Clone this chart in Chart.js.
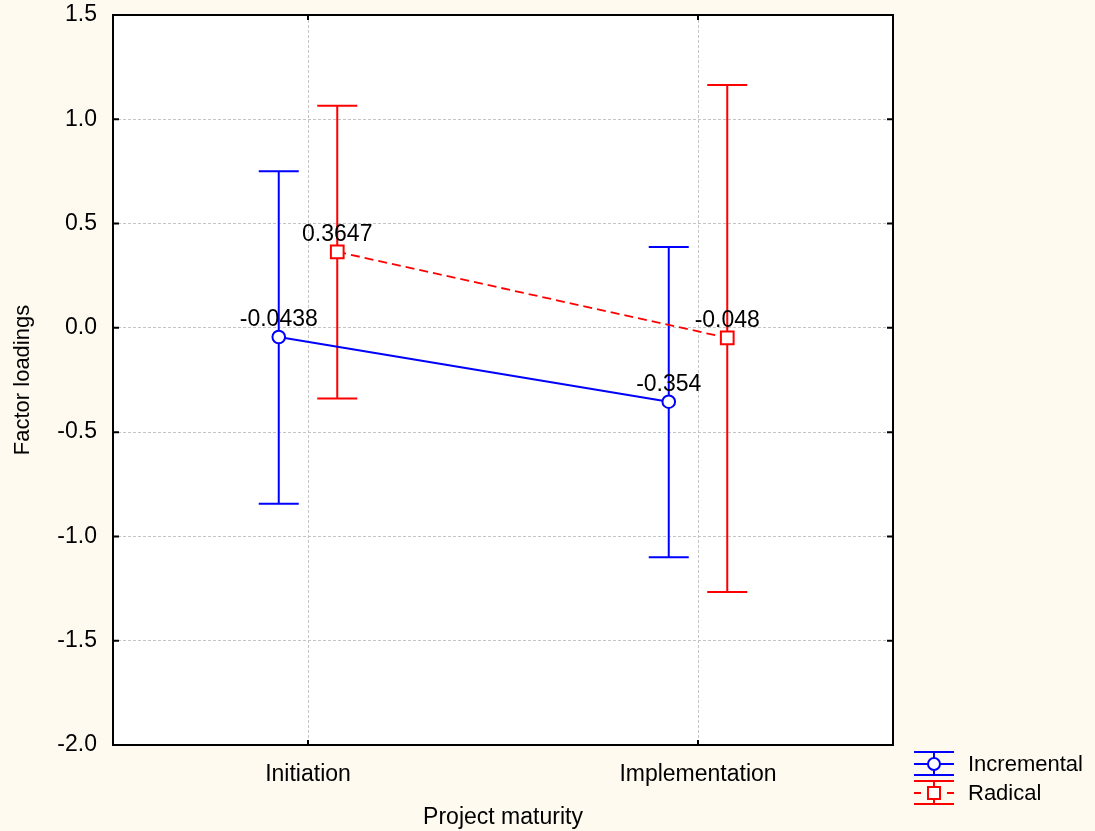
<!DOCTYPE html>
<html>
<head>
<meta charset="utf-8">
<script src="https://cdn.jsdelivr.net/npm/chart.js@4"></script>
<style>
  html, body { margin: 0; padding: 0; background: #FFFAF0; }
  #wrap { width: 1095px; height: 831px; }
</style>
</head>
<body>
<div id="wrap"><canvas id="myChart" width="1095" height="831"></canvas></div>
<script>
  // data
  const categories = ['Initiation', 'Implementation'];
  const yTicks = [-2.0, -1.5, -1.0, -0.5, 0.0, 0.5, 1.0, 1.5];
  const incrementalMean = [-0.0438, -0.354];
  const incrementalUpper = [0.751, 0.388];
  const incrementalLower = [-0.843, -1.100];
  const radicalMean = [0.3647, -0.048];
  const radicalUpper = [1.065, 1.164];
  const radicalLower = [-0.339, -1.266];
  const incrementalLabels = ['-0.0438', '-0.354'];
  const radicalLabels = ['0.3647', '-0.048'];

  const FONT = 'Liberation Sans, Arial, sans-serif';
  const shift = 0.075; // horizontal dodge of the two groups

  const toPoints = (vals, off) => vals.map((v, i) => ({ x: i + 1 + off, y: v }));

  const data = {
    datasets: [{
      label: 'Incremental',
      data: toPoints(incrementalMean, -shift),
      borderColor: '#0000FF',
      backgroundColor: '#FFFFFF',
      borderWidth: 2,
      pointStyle: 'circle',
      pointRadius: 6.3,
      pointBorderWidth: 2,
      pointBorderColor: '#0000FF',
      pointBackgroundColor: '#FFFFFF',
      showLine: true,
      bars: { upper: incrementalUpper, lower: incrementalLower },
      valueLabels: incrementalLabels
    }, {
      label: 'Radical',
      data: toPoints(radicalMean, shift),
      borderColor: '#FF0000',
      backgroundColor: '#FFFFFF',
      borderWidth: 1.8,
      borderDash: [9, 5],
      pointStyle: 'rect',
      pointRadius: 9,
      pointBorderWidth: 2,
      pointBorderColor: '#FF0000',
      pointBackgroundColor: '#FFFFFF',
      showLine: true,
      bars: { upper: radicalUpper, lower: radicalLower },
      valueLabels: radicalLabels
    }]
  };

  // background, frame and inward ticks
  const frame = {
    id: 'frame',
    beforeDraw(chart) {
      const { ctx, width, height, chartArea: a } = chart;
      ctx.save();
      ctx.fillStyle = '#FFFAF0';
      ctx.fillRect(0, 0, width, height);
      ctx.fillStyle = '#FFFFFF';
      ctx.fillRect(a.left, a.top, a.right - a.left, a.bottom - a.top);
      ctx.restore();
    },
    afterDraw(chart) {
      const { ctx, chartArea: a, scales } = chart;
      ctx.save();
      ctx.strokeStyle = '#000000';
      ctx.lineWidth = 2;
      ctx.strokeRect(a.left, a.top, a.right - a.left, a.bottom - a.top);
      ctx.beginPath();
      yTicks.forEach(v => {
        const y = scales.y.getPixelForValue(v);
        ctx.moveTo(a.left, y); ctx.lineTo(a.left + 6, y);
        ctx.moveTo(a.right, y); ctx.lineTo(a.right - 6, y);
      });
      categories.forEach((c, i) => {
        const x = scales.x.getPixelForValue(i + 1);
        ctx.moveTo(x, a.bottom); ctx.lineTo(x, a.bottom - 5);
        ctx.moveTo(x, a.top); ctx.lineTo(x, a.top + 5);
      });
      ctx.stroke();
      ctx.restore();
    }
  };

  // error bars under the points, value labels above
  const errorBars = {
    id: 'errorBars',
    beforeDatasetsDraw(chart) {
      const { ctx, scales } = chart;
      ctx.save();
      chart.data.datasets.forEach(ds => {
        ctx.strokeStyle = ds.borderColor;
        ctx.lineWidth = 2;
        ctx.setLineDash([]);
        ds.data.forEach((p, i) => {
          const x = scales.x.getPixelForValue(p.x);
          const yt = scales.y.getPixelForValue(ds.bars.upper[i]);
          const yb = scales.y.getPixelForValue(ds.bars.lower[i]);
          ctx.beginPath();
          ctx.moveTo(x, yt); ctx.lineTo(x, yb);
          ctx.moveTo(x - 20, yt); ctx.lineTo(x + 20, yt);
          ctx.moveTo(x - 20, yb); ctx.lineTo(x + 20, yb);
          ctx.stroke();
        });
      });
      ctx.restore();
    },
    afterDatasetsDraw(chart) {
      const { ctx, scales } = chart;
      ctx.save();
      ctx.font = '23px ' + FONT;
      ctx.fillStyle = '#000000';
      ctx.textAlign = 'center';
      ctx.textBaseline = 'alphabetic';
      chart.data.datasets.forEach(ds => {
        ds.data.forEach((p, i) => {
          const x = scales.x.getPixelForValue(p.x);
          const y = scales.y.getPixelForValue(p.y);
          ctx.fillText(ds.valueLabels[i], x, y - 11);
        });
      });
      ctx.restore();
    }
  };

  // legend in the lower right corner, statistica style
  const sideLegend = {
    id: 'sideLegend',
    afterDraw(chart) {
      const { ctx } = chart;
      const x0 = 914, x1 = 954, xm = 934;
      ctx.save();
      chart.data.datasets.forEach((ds, k) => {
        const yc = 764 + k * 29;
        ctx.strokeStyle = ds.borderColor;
        ctx.lineWidth = 2;
        ctx.setLineDash([]);
        ctx.beginPath();
        ctx.moveTo(x0, yc - 12); ctx.lineTo(x1, yc - 12);
        ctx.moveTo(x0, yc + 11); ctx.lineTo(x1, yc + 11);
        ctx.moveTo(xm, yc - 12); ctx.lineTo(xm, yc + 11);
        ctx.stroke();
        ctx.beginPath();
        if (ds.borderDash) {
          ctx.moveTo(x0, yc); ctx.lineTo(x0 + 7, yc);
          ctx.moveTo(x1 - 7, yc); ctx.lineTo(x1, yc);
        } else {
          ctx.moveTo(x0, yc); ctx.lineTo(x1, yc);
        }
        ctx.stroke();
        ctx.fillStyle = '#FFFFFF';
        ctx.lineWidth = 2;
        ctx.beginPath();
        if (ds.pointStyle === 'circle') {
          ctx.arc(xm, yc, 6, 0, Math.PI * 2);
        } else {
          ctx.rect(xm - 6, yc - 6, 12, 12);
        }
        ctx.fill();
        ctx.stroke();
        ctx.font = '22px ' + FONT;
        ctx.fillStyle = '#000000';
        ctx.textAlign = 'left';
        ctx.textBaseline = 'middle';
        ctx.fillText(ds.label, 968, yc + 1);
      });
      ctx.restore();
    }
  };

  const gridStyle = {
    color: '#C4C4C4',
    lineWidth: 1,
    drawTicks: false
  };

  // config
  const config = {
    type: 'scatter',
    data,
    options: {
      responsive: false,
      animation: false,
      layout: { padding: { left: 0, right: 202, top: 15, bottom: 0 } },
      plugins: {
        legend: { display: false },
        tooltip: { enabled: false }
      },
      scales: {
        x: {
          type: 'linear',
          min: 0.5,
          max: 2.5,
          afterBuildTicks(scale) {
            scale.ticks = categories.map((c, i) => ({ value: i + 1 }));
          },
          afterFit(scale) {
            scale.height = 86;
            scale.paddingLeft = 0;
            scale.paddingRight = 0;
          },
          grid: gridStyle,
          border: { display: false, dash: [3, 2] },
          ticks: {
            padding: 16,
            color: '#000000',
            font: { family: FONT, size: 23 },
            callback: v => categories[v - 1]
          },
          title: {
            display: true,
            text: 'Project maturity',
            color: '#000000',
            font: { family: FONT, size: 23 },
            padding: { top: 0, bottom: 0 }
          }
        },
        y: {
          min: -2,
          max: 1.5,
          afterBuildTicks(scale) {
            scale.ticks = yTicks.map(v => ({ value: v }));
          },
          afterFit(scale) {
            scale.width = 113;
            scale.paddingTop = 0;
            scale.paddingBottom = 0;
          },
          grid: gridStyle,
          border: { display: false, dash: [3, 2] },
          ticks: {
            padding: 16,
            color: '#000000',
            font: { family: FONT, size: 23 },
            callback: v => v.toFixed(1)
          },
          title: {
            display: true,
            text: 'Factor loadings',
            color: '#000000',
            font: { family: FONT, size: 22 },
            padding: { top: 10, bottom: 0 }
          }
        }
      }
    },
    plugins: [frame, errorBars, sideLegend]
  };

  // render init block
  const myChart = new Chart(
    document.getElementById('myChart'),
    config
  );
</script>
</body>
</html>
